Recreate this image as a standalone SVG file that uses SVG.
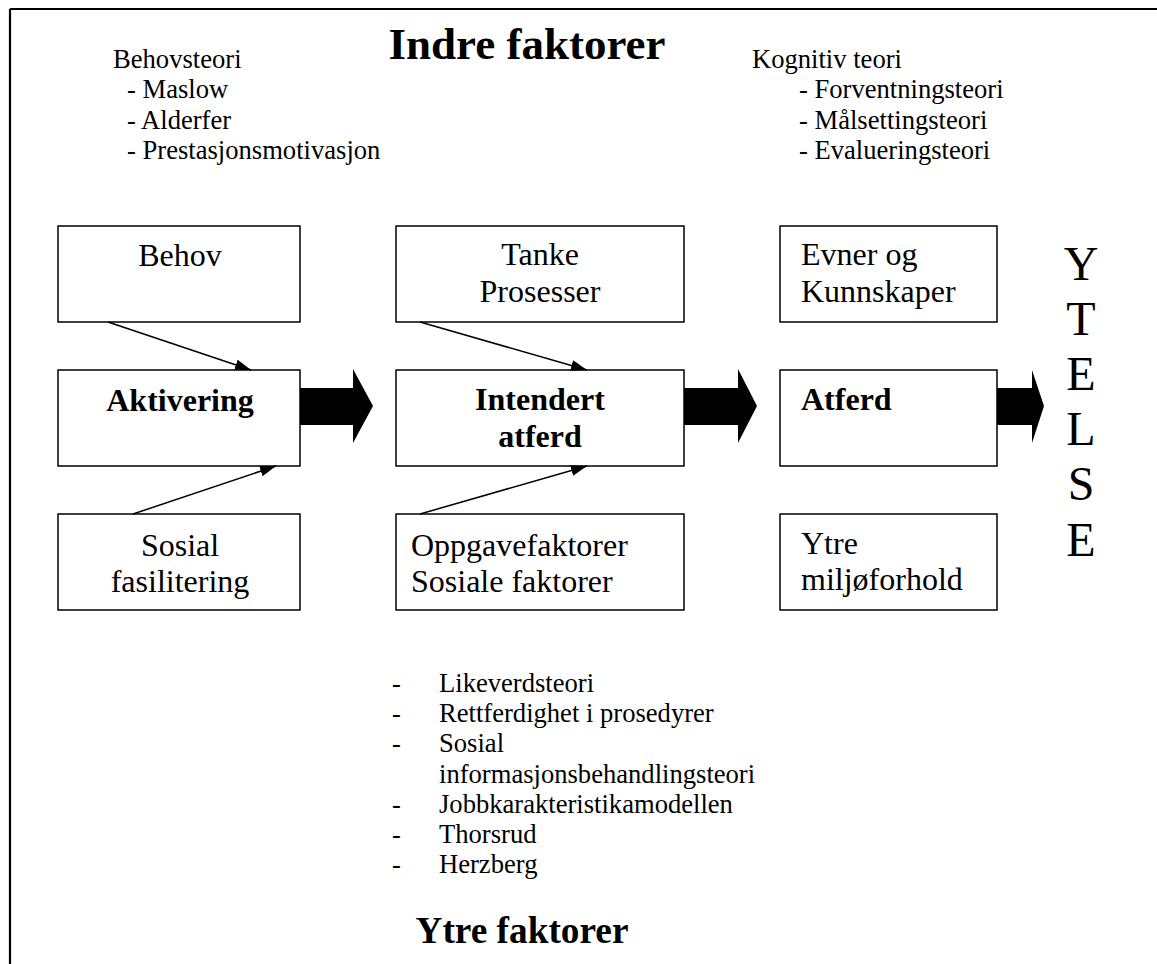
<svg xmlns="http://www.w3.org/2000/svg" width="1157" height="964" viewBox="0 0 1157 964">
<style>
text{font-family:"Liberation Serif","Times New Roman",serif;fill:#000}
.s{font-size:26.6px}
.b{font-size:32px}
.bb{font-size:32px;font-weight:bold}
.h{font-size:37.3px;font-weight:bold}
.hi{font-size:45px;font-weight:bold}
.y{font-size:48px}
.box{fill:#fff;stroke:#000;stroke-width:1.5}
.ln{stroke:#000;stroke-width:1.5;fill:none}
.blk{fill:#000}
.c{text-anchor:middle}
</style>
<defs>
<marker id="ah" markerUnits="userSpaceOnUse" markerWidth="17" markerHeight="12" refX="16" refY="5.5" orient="auto">
<path d="M0,0 L16,5.5 L0,11 z" fill="#000"/>
</marker>
</defs>
<rect width="1157" height="964" fill="#fff"/>
<g id="frame">
<line x1="10" y1="9" x2="1157" y2="9" stroke="#000" stroke-width="2.2"/>
<line x1="10" y1="9" x2="10" y2="964" stroke="#000" stroke-width="2.2"/>
</g>
<g id="indre-faktorer"><text class="hi c" x="527" y="59">Indre faktorer</text></g>
<g id="behovsteori">
<text class="s" x="113" y="68">Behovsteori</text>
<text class="s" x="127" y="98">- Maslow</text>
<text class="s" x="127" y="129">- Alderfer</text>
<text class="s" x="127" y="159">- Prestasjonsmotivasjon</text>
</g>
<g id="kognitiv-teori">
<text class="s" x="752" y="68">Kognitiv teori</text>
<text class="s" x="799" y="98">- Forventningsteori</text>
<text class="s" x="799" y="129">- Målsettingsteori</text>
<text class="s" x="799" y="159">- Evalueringsteori</text>
</g>
<g id="behov"><rect class="box" x="58" y="226" width="242" height="96"/><text class="b c" x="180" y="266">Behov</text></g>
<g id="aktivering"><rect class="box" x="58" y="370" width="242" height="96"/><text class="bb c" x="180" y="411">Aktivering</text></g>
<g id="sosial-fasilitering"><rect class="box" x="58" y="514" width="242" height="96"/><text class="b c" x="180" y="556">Sosial</text><text class="b c" x="180" y="592">fasilitering</text></g>
<g id="tanke"><rect class="box" x="396" y="226" width="288" height="96"/><text class="b c" x="540" y="265">Tanke</text><text class="b c" x="540" y="302">Prosesser</text></g>
<g id="intendert"><rect class="box" x="396" y="370" width="288" height="96"/><text class="bb c" x="540" y="410">Intendert</text><text class="bb c" x="540" y="447">atferd</text></g>
<g id="oppgave"><rect class="box" x="396" y="514" width="288" height="96"/><text class="b" x="411" y="556">Oppgavefaktorer</text><text class="b" x="411" y="592">Sosiale faktorer</text></g>
<g id="evner"><rect class="box" x="780" y="226" width="217" height="96"/><text class="b" x="801" y="265">Evner og</text><text class="b" x="801" y="302">Kunnskaper</text></g>
<g id="atferd"><rect class="box" x="780" y="370" width="217" height="96"/><text class="bb" x="801" y="410">Atferd</text></g>
<g id="ytre-miljo"><rect class="box" x="780" y="514" width="217" height="96"/><text class="b" x="801" y="554">Ytre</text><text class="b" x="801" y="590">miljøforhold</text></g>
<g id="ytelse">
<text class="y c" x="1081" y="280">Y</text>
<text class="y c" x="1081" y="335">T</text>
<text class="y c" x="1081" y="390">E</text>
<text class="y c" x="1081" y="445">L</text>
<text class="y c" x="1081" y="500">S</text>
<text class="y c" x="1081" y="556">E</text>
</g>
<g id="teorier-ytre">
<text class="s" x="392" y="692">-</text><text class="s" x="439" y="692">Likeverdsteori</text>
<text class="s" x="392" y="722">-</text><text class="s" x="439" y="722">Rettferdighet i prosedyrer</text>
<text class="s" x="392" y="752">-</text><text class="s" x="439" y="752">Sosial</text>
<text class="s" x="439" y="783">informasjonsbehandlingsteori</text>
<text class="s" x="392" y="813">-</text><text class="s" x="439" y="813">Jobbkarakteristikamodellen</text>
<text class="s" x="392" y="843">-</text><text class="s" x="439" y="843">Thorsrud</text>
<text class="s" x="392" y="873">-</text><text class="s" x="439" y="873">Herzberg</text>
</g>
<g id="ytre-faktorer"><text class="h c" x="522" y="943">Ytre faktorer</text></g>
<g id="connectors">
<line class="ln" x1="108" y1="322" x2="251" y2="370" marker-end="url(#ah)"/>
<line class="ln" x1="133" y1="514" x2="276" y2="466" marker-end="url(#ah)"/>
<line class="ln" x1="420" y1="322" x2="587" y2="370" marker-end="url(#ah)"/>
<line class="ln" x1="420" y1="514" x2="587" y2="466" marker-end="url(#ah)"/>
<path class="blk" d="M300,388 L353,388 L353,369 L373,406 L353,443 L353,425 L300,425 z"/>
<path class="blk" d="M684,388 L738,388 L738,369 L757,406 L738,443 L738,425 L684,425 z"/>
<path class="blk" d="M997,388 L1032,388 L1032,370 L1044,406 L1032,443 L1032,425 L997,425 z"/>
</g>
</svg>
